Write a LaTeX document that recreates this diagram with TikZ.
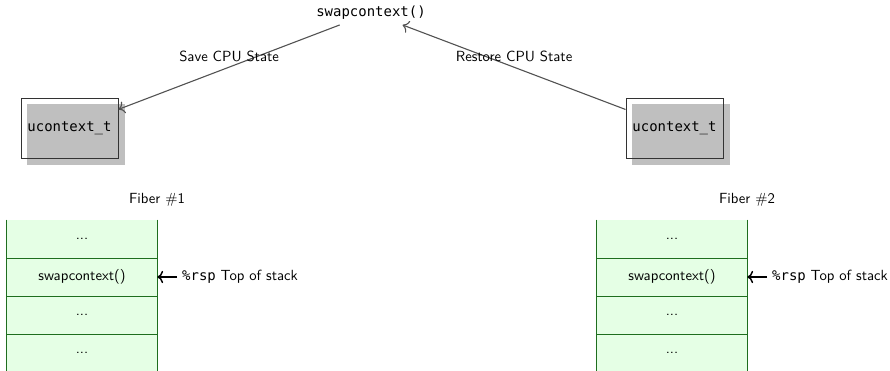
\documentclass[tikz,border=0pt]{standalone}
\usepackage{fontspec}
\setmonofont[Scale=0.95]{DejaVu Sans Mono}
\usetikzlibrary{backgrounds,arrows.meta}
\definecolor{stackgreen}{RGB}{30,110,30}
\begin{document}
\begin{tikzpicture}[x=0.68pt,y=-0.68pt,font=\sffamily,
  call/.style={font=\ttfamily},
  ctx/.style={draw=black!80,line width=0.6pt,font=\ttfamily,
    minimum width=66pt,minimum height=40.8pt,inner sep=0pt},
  ctxshadow/.style={fill=black!25},
  conn/.style={draw=black!68,line width=0.75pt,-{To[scale=1.25]}},
  cell/.style={fill=green!10,minimum width=102pt,minimum height=25.84pt,inner sep=0pt},
  stackline/.style={draw=stackgreen,line width=0.9pt},
  rsp/.style={anchor=west},
  sparrow/.style={draw=black,line width=1pt,-{To[scale=1.05]}}]
\useasboundingbox (0,0) rectangle (890,370);

% the call at the top
\node[call] (swap) at (371,13) {swapcontext()};

% saved contexts with their offset shadows
\node[ctx] (uc1) at (69.5,128) {ucontext\_t};
\node[ctx] (uc2) at (674.5,128) {ucontext\_t};
\begin{scope}[on background layer]
  \fill[ctxshadow] ([shift={(6.5,6.5)}]uc1.north west) rectangle ([shift={(6.5,6.5)}]uc1.south east);
  \fill[ctxshadow] ([shift={(6.5,6.5)}]uc2.north west) rectangle ([shift={(6.5,6.5)}]uc2.south east);
\end{scope}

\draw[conn] (swap) -- node[above,midway] {Save CPU State} (uc1);
\draw[conn] (uc2) -- node[above,midway] {Restore CPU State} (swap);

% fiber 1 stack
\node (f1) at (157,200) {Fiber $\#$1};
\node[cell] (s1a) at (82,239) {...};
\node[cell] (s1b) at (82,277) {swapcontext()};
\node[cell] (s1c) at (82,315) {...};
\node[cell] (s1d) at (82,353) {...};
\draw[stackline] (s1a.north west) -- (s1d.south west);
\draw[stackline] (s1a.north east) -- (s1d.south east);
\foreach \c in {s1a,s1b,s1c} \draw[stackline] (\c.south west) -- (\c.south east);
\node[rsp] (r1) at (177,277) {\texttt{\%rsp} Top of stack};
\draw[sparrow] (r1.west) -- (s1b.east);

% fiber 2 stack
\node (f2) at (747,200) {Fiber $\#$2};
\node[cell] (s2a) at (672,239) {...};
\node[cell] (s2b) at (672,277) {swapcontext()};
\node[cell] (s2c) at (672,315) {...};
\node[cell] (s2d) at (672,353) {...};
\draw[stackline] (s2a.north west) -- (s2d.south west);
\draw[stackline] (s2a.north east) -- (s2d.south east);
\foreach \c in {s2a,s2b,s2c} \draw[stackline] (\c.south west) -- (\c.south east);
\node[rsp] (r2) at (767,277) {\texttt{\%rsp} Top of stack};
\draw[sparrow] (r2.west) -- (s2b.east);
\end{tikzpicture}
\end{document}
